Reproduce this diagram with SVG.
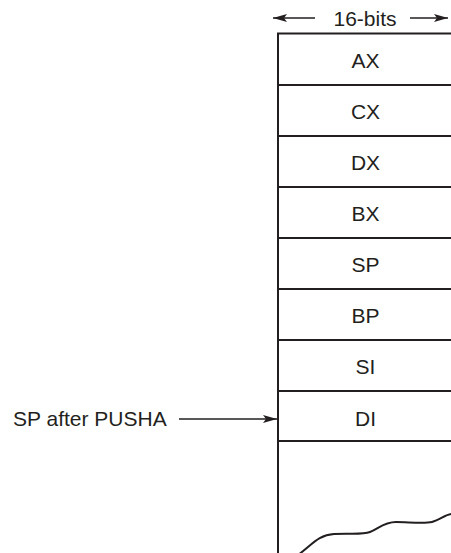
<svg xmlns="http://www.w3.org/2000/svg" width="451" height="553" viewBox="0 0 451 553">
<style>
text{font-family:"Liberation Sans",Arial,Helvetica,sans-serif;font-size:21px;fill:#231f20}
.reg text{text-anchor:middle}
.ln{stroke:#231f20;stroke-width:2;fill:none}
.thin{stroke:#231f20;stroke-width:1.3;fill:none}
</style>
<defs>
<marker id="ah" viewBox="0 0 14 8" refX="14" refY="4" markerWidth="14" markerHeight="8" markerUnits="userSpaceOnUse" orient="auto">
<path d="M0,0 L14,4 L0,8 L3,4 Z" fill="#231f20"/>
</marker>
</defs>
<rect width="451" height="553" fill="#fff"/>
<g id="width-label">
<text x="365" y="25.5" text-anchor="middle">16-bits</text>
</g>
<g id="stack">
<line class="ln" x1="278" y1="33" x2="278" y2="553"/>
<line class="ln" x1="277" y1="33.5" x2="451" y2="33.5" stroke-width="2.5"/>
<line class="ln" x1="278" y1="85" x2="451" y2="85"/>
<line class="ln" x1="278" y1="136" x2="451" y2="136"/>
<line class="ln" x1="278" y1="187" x2="451" y2="187"/>
<line class="ln" x1="278" y1="238" x2="451" y2="238"/>
<line class="ln" x1="278" y1="289" x2="451" y2="289"/>
<line class="ln" x1="278" y1="340" x2="451" y2="340"/>
<line class="ln" x1="278" y1="391" x2="451" y2="391"/>
<line class="ln" x1="278" y1="441" x2="451" y2="441"/>
<path class="ln" d="M298,555 C312,545 318,535 334,534 S362,535 370,532 S384,522 396,522 S424,524 432,522 S446,514 452,514"/>
</g>
<g class="reg">
<g id="AX"><text x="365.5" y="68">AX</text></g>
<g id="CX"><text x="365.5" y="119">CX</text></g>
<g id="DX"><text x="365.5" y="170">DX</text></g>
<g id="BX"><text x="365.5" y="221">BX</text></g>
<g id="SP"><text x="365.5" y="272">SP</text></g>
<g id="BP"><text x="365.5" y="323">BP</text></g>
<g id="SI"><text x="365.5" y="374">SI</text></g>
<g id="DI"><text x="365.5" y="425.5">DI</text></g>
</g>
<g id="sp-label">
<text x="13" y="426">SP after PUSHA</text>
</g>
<g id="connectors">
<line class="thin" x1="315" y1="18" x2="273" y2="18" marker-end="url(#ah)"/>
<line class="thin" x1="410" y1="18" x2="448" y2="18" marker-end="url(#ah)"/>
<line class="thin" x1="179" y1="419" x2="277" y2="419" marker-end="url(#ah)"/>
</g>
</svg>
